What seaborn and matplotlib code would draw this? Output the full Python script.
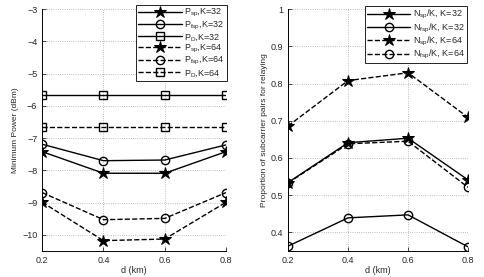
import matplotlib
matplotlib.use("Agg")
import matplotlib.pyplot as plt
import seaborn as sns

sns.set_style("ticks")
plt.rcParams['font.family'] = ['Liberation Sans', 'DejaVu Sans']
plt.rcParams['mathtext.fontset'] = 'custom'
plt.rcParams['mathtext.rm'] = 'Liberation Sans'

d = [0.2, 0.4, 0.6, 0.8]

# Left panel: minimum power (dBm)
p_sp_32 = [-7.42, -8.09, -8.09, -7.42]
p_fsp_32 = [-7.19, -7.70, -7.68, -7.21]
p_d_32 = [-5.65, -5.65, -5.65, -5.65]
p_sp_64 = [-8.99, -10.18, -10.13, -8.99]
p_fsp_64 = [-8.69, -9.53, -9.49, -8.69]
p_d_64 = [-6.64, -6.64, -6.64, -6.64]

# Right panel: proportion of subcarrier pairs for relaying
n_sp_32 = [0.534, 0.641, 0.653, 0.541]
n_fsp_32 = [0.363, 0.439, 0.447, 0.361]
n_sp_64 = [0.686, 0.808, 0.829, 0.709]
n_fsp_64 = [0.533, 0.638, 0.645, 0.521]

left_labels = [r'P$_{\mathregular{sp}}$,K=32', r'P$_{\mathregular{fsp}}$,K=32', r'P$_{\mathregular{D}}$,K=32',
               r'P$_{\mathregular{sp}}$,K=64', r'P$_{\mathregular{fsp}}$,K=64', r'P$_{\mathregular{D}}$,K=64']
right_labels = [r'N$_{\mathregular{sp}}$/K, K=32', r'N$_{\mathregular{fsp}}$/K, K=32',
                r'N$_{\mathregular{sp}}$/K, K=64', r'N$_{\mathregular{fsp}}$/K, K=64']

fig = plt.figure(figsize=(4.85, 2.77), dpi=100)
ax1 = fig.add_axes([0.087, 0.094, 0.379, 0.873])
ax2 = fig.add_axes([0.594, 0.094, 0.371, 0.873])

def style(marker):
    if marker == '*':
        return dict(marker='*', markersize=9, markerfacecolor='black', markeredgecolor='black')
    return dict(marker=marker, markersize=6, markerfacecolor='none', markeredgecolor='black', markeredgewidth=1.0)

left_series = [(p_sp_32, '*', '-'), (p_fsp_32, 'o', '-'), (p_d_32, 's', '-'),
               (p_sp_64, '*', '--'), (p_fsp_64, 'o', '--'), (p_d_64, 's', '--')]
for (vals, m, ls), lab in zip(left_series, left_labels):
    sns.lineplot(x=d, y=vals, ax=ax1, color='black', linewidth=1.0, linestyle=ls, label=lab, **style(m))

right_series = [(n_sp_32, '*', '-'), (n_fsp_32, 'o', '-'), (n_sp_64, '*', '--'), (n_fsp_64, 'o', '--')]
for (vals, m, ls), lab in zip(right_series, right_labels):
    sns.lineplot(x=d, y=vals, ax=ax2, color='black', linewidth=1.0, linestyle=ls, label=lab, **style(m))

for ax in (ax1, ax2):
    ax.set_xlim(0.2, 0.8)
    ax.set_xticks(d)
    ax.set_xticklabels(['0.2', '0.4', '0.6', '0.8'])
    ax.grid(True, linestyle=':', color='#aaaaaa', linewidth=0.6)
    ax.tick_params(labelsize=6.5, direction='in', length=3, width=0.6)
    for side in ('top', 'right'):
        ax.spines[side].set_visible(False)
    for side in ('left', 'bottom'):
        ax.spines[side].set_linewidth(0.7)
        ax.spines[side].set_color('black')
    ax.set_xlabel('d (km)', fontsize=6.5, labelpad=1)

ax1.set_ylim(-10.5, -3)
ax1.set_yticks([-10, -9, -8, -7, -6, -5, -4, -3])
ax1.set_yticklabels(['\u221210', '\u22129', '\u22128', '\u22127', '\u22126', '\u22125', '\u22124', '\u22123'])
ax1.set_ylabel('Minimum Power (dBm)', fontsize=6, labelpad=2)

ax2.set_ylim(0.35, 1.0)
ax2.set_yticks([0.4, 0.5, 0.6, 0.7, 0.8, 0.9, 1.0])
ax2.set_yticklabels(['0.4', '0.5', '0.6', '0.7', '0.8', '0.9', '1'])
ax2.set_ylabel('Proportion of subcarrier pairs for relaying', fontsize=6, labelpad=2)

anchors = [(227 / 485, 1 - 5 / 277), (467 / 485, 1 - 6 / 277)]
for ax, anc in zip((ax1, ax2), anchors):
    leg = ax.legend(loc='upper right', bbox_to_anchor=anc, bbox_transform=fig.transFigure,
                    fontsize=6.5, frameon=True, fancybox=False,
                    edgecolor='black', framealpha=1, handlelength=4.8, borderaxespad=0,
                    labelspacing=0.02, borderpad=0.25, handletextpad=0.3)
    leg.get_frame().set_linewidth(0.6)

fig.savefig('out.png', dpi=100)
